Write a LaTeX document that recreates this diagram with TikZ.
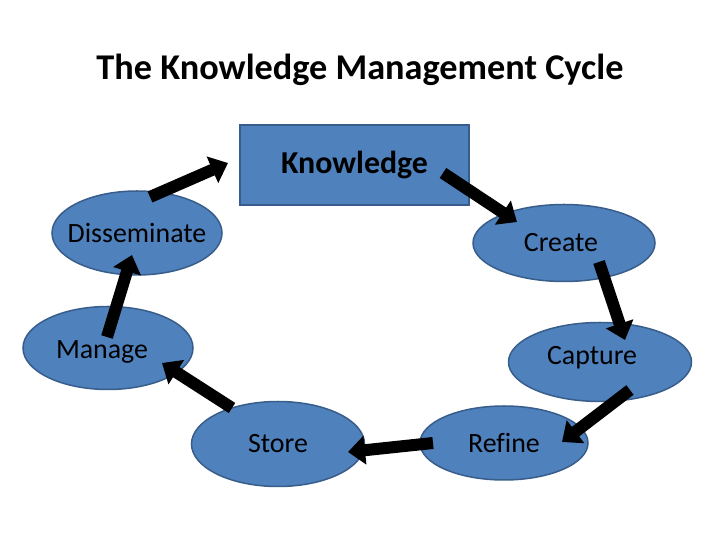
\documentclass[tikz,border=0pt]{standalone}
\usepackage{fontspec}
\setmainfont{Carlito}[Ligatures=CommonOff]
\usetikzlibrary{arrows.meta,shapes.geometric}
\definecolor{kmcblue}{RGB}{79,129,189}
\definecolor{kmcedge}{RGB}{56,93,138}
\begin{document}
\begin{tikzpicture}[
  x=1bp, y=1bp,
  kmcstage/.style = {ellipse, draw=kmcedge, line width=1.5bp, fill=kmcblue, inner sep=0pt},
  kmclbl/.style = {font=\fontsize{28}{32}\selectfont, inner sep=0pt},
  kmcbox/.style = {rectangle, draw=kmcedge, line width=1.5bp, fill=kmcblue,
    minimum width=229bp, minimum height=80bp, font=\fontsize{32}{36}\selectfont\bfseries},
  kmcarrow/.style = {-{Triangle[width=28bp,length=17bp]}, line width=12bp, black},
  kmctitle/.style = {font=\fontsize{36.4}{42}\selectfont\bfseries}
]
  \useasboundingbox (0,0) rectangle (720,540);
  % title
  \node[kmctitle, anchor=base] (title) at (360,460) {The Knowledge Management Cycle};
  % knowledge box
  \node[kmcbox] (know) at (354.5,375) {Knowledge};
  % stages of the cycle
  \node[kmcstage, minimum width=170bp, minimum height=84bp,
    label={[kmclbl]center:Disseminate}] (diss) at (137,307) {};
  \node[kmcstage, minimum width=182bp, minimum height=77bp,
    label={[kmclbl, xshift=-3]center:Create}] (create) at (564,297) {};
  \node[kmcstage, minimum width=183bp, minimum height=79bp,
    label={[kmclbl, xshift=-8, yshift=4]center:Capture}] (capture) at (600,178) {};
  \node[kmcstage, minimum width=168bp, minimum height=74bp,
    label={[kmclbl]center:Refine}] (refine) at (504,97) {};
  \node[kmcstage, minimum width=173bp, minimum height=85bp,
    label={[kmclbl]center:Store}] (store) at (278,96) {};
  \node[kmcstage, minimum width=170bp, minimum height=83bp,
    label={[kmclbl, xshift=-6, yshift=-4]center:Manage}] (manage) at (108,192) {};
  % arrows round the cycle
  \draw[kmcarrow] ([shift={(13,36)}]diss.center) -- ([shift={(-126.5,2)}]know.center);
  \draw[kmcarrow] ([shift={(88.5,-8)}]know.center) -- ([shift={(-47,21)}]create.center);
  \draw[kmcarrow] ([shift={(35,-19)}]create.center) -- ([shift={(25,22)}]capture.center);
  \draw[kmcarrow] ([shift={(30,-28)}]capture.center) -- ([shift={(58,1)}]refine.center);
  \draw[kmcarrow] ([shift={(-71,0)}]refine.center) -- ([shift={(70,-8)}]store.center);
  \draw[kmcarrow] ([shift={(-46,36)}]store.center) -- ([shift={(54,-15)}]manage.center);
  \draw[kmcarrow] ([shift={(-1,11)}]manage.center) -- ([shift={(-5,-22)}]diss.center);
\end{tikzpicture}
\end{document}
